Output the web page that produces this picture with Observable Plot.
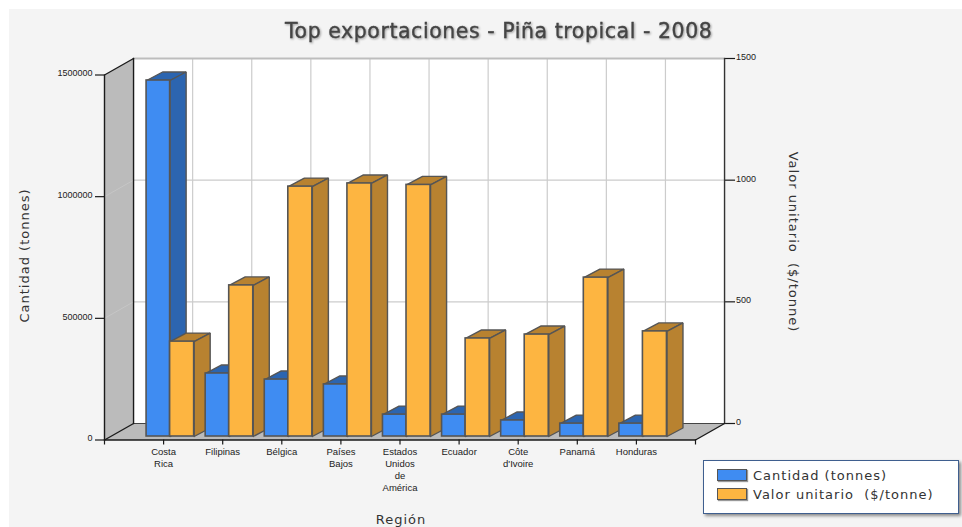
<!DOCTYPE html>
<html lang="es">
<head>
<meta charset="utf-8">
<script src="https://cdn.jsdelivr.net/npm/d3@7"></script>
<script src="https://cdn.jsdelivr.net/npm/@observablehq/plot@0.6"></script>
<style>
  html, body { margin: 0; padding: 0; background: #fff; overflow: hidden; }
  body { width: 962px; height: 527px; position: relative; }
  #panel { position: absolute; left: 9px; top: 9px; right: 0; bottom: 0; background: #f4f4f4; }
  #chart { position: absolute; left: 0; top: 0; }
  #chart svg { background: transparent; white-space: pre; }
  #legend { position: absolute; left: 703px; top: 460px; width: 256px; height: 54px; background: #fff;
    border: 1.5px solid #3f5f8f; box-shadow: 2px 2px 3px #8a8a8a; box-sizing: border-box;
    font: 13px "DejaVu Sans", sans-serif; letter-spacing: 1px; color: #333; white-space: pre; }
  #legend div.row { position: absolute; left: 13px; height: 14px; display: flex; align-items: center; }
  #legend i { display: block; width: 30px; height: 12px; border: 1.5px solid #555; margin-right: 6px; box-sizing: border-box; box-shadow: 1px 1px 1px #999; }
</style>
</head>
<body>
<div id="panel"></div>
<div id="chart"></div>
<div id="legend"></div>
<script>
const titulo = "Top exportaciones - Piña tropical - 2008";
const ejeX = "Región";
const serieCantidad = "Cantidad (tonnes)";
const serieValor = "Valor unitario  ($/tonne)";
const categorias = ["Costa\nRica", "Filipinas", "Bélgica", "Países\nBajos", "Estados\nUnidos\nde\nAmérica", "Ecuador", "Côte\nd'Ivoire", "Panamá", "Honduras"];
const cantidad = [1463000, 259000, 234000, 214000, 90000, 90000, 66000, 53000, 53000];
const valorUnitario = [390, 621, 1027, 1040, 1034, 403, 419, 653, 432];
const ticksIzq = [0, 500000, 1000000, 1500000];
const ticksDer = [0, 500, 1000, 1500];

const azul = "#3f8cf2", azulOsc = "#2c65b0", naranja = "#fdb541", naranjaOsc = "#b88230";
const borde = "#555", muro = "#bbbbbb", rejilla = "#cccccc", negro = "#1a1a1a";

// one category on x is 59 px, the value axis spans 365 px
const pxX = p => p / 59;
const pxY = p => p * 1500000 / 365;
const atX = p => pxX(p - 104);
const atY = p => pxY(439.5 - p);

const fondoX = pxX(29), fondoY = pxY(16.5);   // depth of the chart box
const barX = pxX(16), barY = pxY(8.5);        // depth of a bar
const baseY = pxY(3.5);                       // bars stand slightly inside the floor
const maxY = 1500000, maxX = 10;

const poly = (pts, o) => Plot.line([...pts, pts[0]], {x: d => d[0], y: d => d[1], strokeLinejoin: "miter", ...o});
const seg = (a, b, o) => Plot.line([a, b], {x: d => d[0], y: d => d[1], ...o});

function caja(x1, x2, valor, claro, oscuro) {
  const top = valor + baseY;
  const cara = {fill: oscuro, stroke: borde, strokeWidth: 1.4};
  return [
    poly([[x1, top], [x2, top], [x2 + barX, top + barY], [x1 + barX, top + barY]], cara),
    poly([[x2, baseY], [x2, top], [x2 + barX, top + barY], [x2 + barX, baseY + barY]], cara),
    Plot.rect([0], {x1, x2, y1: baseY, y2: top, fill: claro, stroke: borde, strokeWidth: 1.6})
  ];
}

const barras = categorias.flatMap((_, i) => {
  const t = i + 1;
  return [
    ...caja(t - pxX(17), t + pxX(6.5), cantidad[i], azul, azulOsc),
    ...caja(t + pxX(6.5), t + pxX(30.5), valorUnitario[i] * 1000, naranja, naranjaOsc)
  ];
});

const texto = {fontFamily: '"DejaVu Sans", sans-serif', fill: "#333"};
const fuenteEje = {fontSize: 9, fontFamily: '"Liberation Sans", sans-serif', stroke: negro, strokeWidth: 1.2, fill: "#222", label: null};

const plot = Plot.plot({
  width: 962, height: 527,
  marginLeft: 0, marginRight: 0, marginTop: 0, marginBottom: 0,
  x: {domain: [0, maxX], range: [104, 695], axis: null},
  y: {domain: [0, maxY], range: [439.5, 74.5], axis: null},
  style: {background: "transparent"},
  marks: [
    // back wall
    poly([[fondoX, fondoY], [maxX + fondoX, fondoY], [maxX + fondoX, maxY + fondoY], [fondoX, maxY + fondoY]], {fill: "#fff", stroke: "none"}),
    // vertical grid
    ...d3.range(1, maxX).map(i => seg([i + fondoX, fondoY], [i + fondoX, maxY + fondoY], {stroke: rejilla, strokeWidth: 1.2})),
    // horizontal grid
    ...ticksIzq.slice(1, -1).map(v => seg([fondoX, v + fondoY], [maxX + fondoX, v + fondoY], {stroke: rejilla, strokeWidth: 1.2})),
    seg([fondoX, maxY + fondoY], [maxX + fondoX, maxY + fondoY], {stroke: "#bdbdbd", strokeWidth: 2}),
    // left wall and floor
    poly([[0, 0], [0, maxY], [fondoX, maxY + fondoY], [fondoX, fondoY]], {fill: muro, stroke: "none"}),
    ...ticksIzq.slice(1, -1).map(v => seg([0, v], [fondoX, v + fondoY], {stroke: "#c6c6c6", strokeWidth: 1})),
    poly([[0, 0], [fondoX, fondoY], [maxX + fondoX, fondoY], [maxX, 0]], {fill: muro, stroke: "none"}),
    seg([fondoX, fondoY], [maxX + fondoX, fondoY], {stroke: "#444", strokeWidth: 1}),
    // box edges
    seg([fondoX, fondoY], [fondoX, maxY + fondoY], {stroke: negro, strokeWidth: 1.4}),
    seg([maxX + fondoX, fondoY], [maxX + fondoX, maxY + fondoY], {stroke: "#333", strokeWidth: 1.4}),
    seg([0, maxY], [fondoX, maxY + fondoY], {stroke: negro, strokeWidth: 1.4}),
    seg([0, 0], [fondoX, fondoY], {stroke: negro, strokeWidth: 1.4}),
    seg([maxX, 0], [maxX + fondoX, fondoY], {stroke: negro, strokeWidth: 1.4}),
    ...barras,
    seg([0, 0], [maxX, 0], {stroke: negro, strokeWidth: 1.4}),
    seg([0, 0], [0, maxY], {stroke: negro, strokeWidth: 1.4}),
    // axes
    Plot.axisY(ticksIzq, {anchor: "left", x: 0, tickSize: 9, tickPadding: 3, tickFormat: () => "", ...fuenteEje}),
    Plot.axisY(ticksIzq, {anchor: "left", x: 0, dy: -1.5, tickSize: 0, tickPadding: 12, tickFormat: "d", ...fuenteEje}),
    Plot.axisY(ticksDer.map(d => d * 1000), {anchor: "right", x: maxX + fondoX, dy: -16.5, tickSize: 10, tickPadding: 2, tickFormat: () => "", ...fuenteEje}),
    Plot.axisY(ticksDer.map(d => d * 1000), {anchor: "right", x: maxX + fondoX, dy: -18, tickSize: 0, tickPadding: 11.5, tickFormat: d => String(d / 1000), ...fuenteEje}),
    Plot.axisX(d3.range(0, maxX + 1), {anchor: "bottom", y: 0, tickSize: 5, tickPadding: 1, tickFormat: i => categorias[i - 1] ?? "", ...fuenteEje, fontSize: 9.5, lineHeight: 1.27}),
    // titles
    Plot.text([titulo], {x: atX(497.5), y: atY(31), text: d => d, fontSize: 20.5, ...texto, fill: "#444", stroke: "#444", strokeWidth: 0.35, imageFilter: "drop-shadow(1px 1px 1px #999)"}),
    Plot.text([ejeX], {x: atX(400), y: atY(519.5), text: d => d, fontSize: 13, ...texto}),
    Plot.text([serieCantidad], {x: atX(24), y: atY(255), text: d => d, rotate: -90, fontSize: 13, ...texto}),
    Plot.text([serieValor], {x: atX(792), y: atY(241.5), text: d => d, rotate: 90, fontSize: 13, ...texto})
  ]
});
document.getElementById("chart").append(plot);

// Plot.text has no letter-spacing option
const espaciado = new Map([[titulo, "0.55px"], [ejeX, "1px"], [serieCantidad, "1px"], [serieValor, "1px"]]);
for (const t of plot.querySelectorAll("text")) {
  const s = espaciado.get(t.textContent);
  if (s) t.style.letterSpacing = s;
}

const filas = [[serieCantidad, azul, 8], [serieValor, naranja, 27]];
const legend = document.getElementById("legend");
for (const [nombre, color, top] of filas) {
  const row = document.createElement("div");
  row.className = "row";
  row.style.top = top - 1 + "px";
  const sw = document.createElement("i");
  sw.style.background = color;
  const tx = document.createElement("span");
  tx.textContent = nombre;
  row.append(sw, tx);
  legend.append(row);
}
</script>
</body>
</html>
